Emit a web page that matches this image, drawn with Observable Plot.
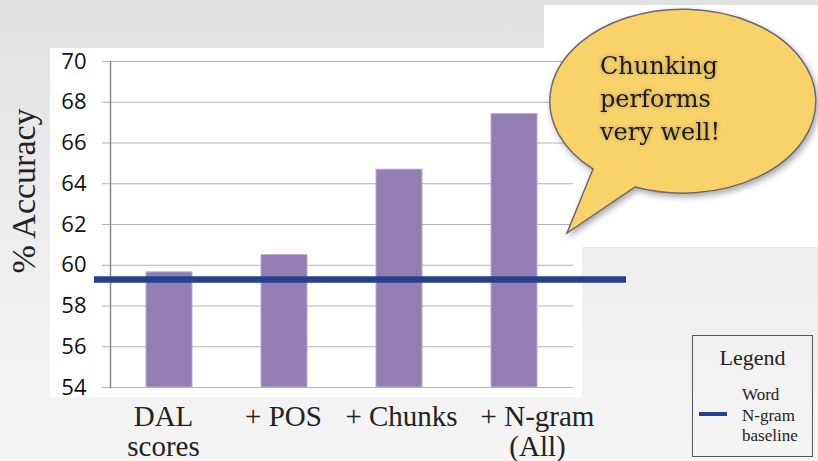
<!DOCTYPE html>
<html><head><meta charset="utf-8">
<script src="https://cdn.jsdelivr.net/npm/d3@7"></script>
<script src="https://cdn.jsdelivr.net/npm/@observablehq/plot@0.6"></script>
<style>
html,body{margin:0;padding:0}
body{width:818px;height:461px;overflow:hidden;position:relative;background:linear-gradient(180deg,#e1e1e1 0%,#ececec 45%,#f5f5f5 100%);}
#plotbg{position:absolute;left:50px;top:48px;width:532px;height:349px;background:#fff;}
#bubblebg{position:absolute;left:544px;top:5px;width:274px;height:242px;background:#fff;}
#chart{position:absolute;left:0;top:0;}
#ytitle{position:absolute;left:-76.5px;top:174px;width:200px;height:34px;line-height:34px;text-align:center;font-family:"Liberation Serif",serif;font-size:34px;color:#222;transform:rotate(-90deg);transform-origin:50% 50%;white-space:nowrap;}
#bubble{position:absolute;left:0;top:0;}
#legend{position:absolute;left:692px;top:335px;width:119px;height:120px;border:1.5px solid #555;font-family:"Liberation Serif",serif;color:#222;}
#legend .title{position:absolute;left:0;width:100%;top:9px;text-align:center;font-size:22px;}
#legend .swatch{position:absolute;left:6px;top:76px;width:28px;height:4px;background:#24408E;}
#legend .lab{position:absolute;left:49px;top:49px;font-size:17px;line-height:20.5px;white-space:pre;}
</style></head>
<body>
<div id="plotbg"></div>
<div id="bubblebg"></div>
<div id="chart"></div>
<div id="ytitle"></div>
<div id="legend"><div class="title"></div><div class="swatch"></div><div class="lab"></div></div>
<script>
const categories = ["DAL\nscores", "+ POS", "+ Chunks", "+ N-gram\n(All)"];
const accuracy = [59.65, 60.5, 64.69, 67.42];
const baselineAccuracy = 59.3;
const baselineLabel = "Word\nN-gram\nbaseline";
const yTicks = [54, 56, 58, 60, 62, 64, 66, 68, 70];
const yTitle = "% Accuracy";
const legendTitle = "Legend";
const bubbleLines = ["Chunking", "performs", "very well!"];

const labelShift = [-6, -1, 2, 23];

const data = categories.map((c, i) => ({category: c, value: accuracy[i]}));

const chart = Plot.plot({
  width: 818,
  height: 461,
  marginLeft: 110,
  marginRight: 245,
  marginTop: 61,
  marginBottom: 74,
  style: {background: "transparent", overflow: "visible"},
  x: {domain: categories, paddingInner: 0.6, paddingOuter: 0.3, axis: null},
  y: {domain: [54, 70], axis: null},
  marks: [
    Plot.ruleY(yTicks, {y: d => d, stroke: "#b3b3b3", strokeWidth: 1.2}),
    Plot.axisY(yTicks, {tickSize: 8, tickPadding: 16, stroke: "#b3b3b3", fontSize: 22, fontFamily: "Open Sans", fill: "#111", label: null}),
    Plot.frame({anchor: "left", stroke: "#8a8a8a", strokeWidth: 1.5}),
    Plot.barY(data, {x: "category", y1: 54, y2: "value", fill: "#937EB3", stroke: "#B9ABD3", strokeWidth: 1}),
    Plot.ruleY([baselineAccuracy], {stroke: "#24408E", strokeWidth: 6.5, insetLeft: -16, insetRight: -53}),
    ...categories.map((c, i) => Plot.text([c], {
      x: d => d, frameAnchor: "bottom", lineAnchor: "top", dy: 17, dx: labelShift[i],
      fontFamily: "Liberation Serif", fontSize: 29, lineHeight: 1.04, fill: "#222", text: d => d
    }))
  ]
});
document.getElementById("chart").appendChild(chart);

document.getElementById("ytitle").textContent = yTitle;
document.querySelector("#legend .title").textContent = legendTitle;
document.querySelector("#legend .lab").textContent = baselineLabel;

// speech bubble annotation
const svg = d3.select("body").append("svg").attr("id", "bubble").attr("width", 818).attr("height", 461);
const defs = svg.append("defs");
const f = defs.append("filter").attr("id", "sh").attr("x", "-20%").attr("y", "-20%").attr("width", "140%").attr("height", "140%");
f.append("feDropShadow").attr("dx", 2).attr("dy", 3).attr("stdDeviation", 3).attr("flood-color", "#000").attr("flood-opacity", 0.35);
const tf = defs.append("filter").attr("id", "tsh").attr("x", "-20%").attr("y", "-40%").attr("width", "140%").attr("height", "180%");
tf.append("feDropShadow").attr("dx", 0).attr("dy", 0).attr("stdDeviation", 2).attr("flood-color", "#000").attr("flood-opacity", 0.3);
svg.append("path")
  .attr("d", "M593,169 L567,233 L635,187 A133,92 0 1 0 593,169 Z")
  .attr("fill", "#F9D26B").attr("stroke", "#6a6a6a").attr("stroke-width", 1.5)
  .attr("filter", "url(#sh)");
svg.append("g").attr("filter", "url(#tsh)").selectAll("text").data(bubbleLines).join("text")
  .attr("x", 600).attr("y", (d, i) => 74 + i * 33)
  .attr("font-family", "DejaVu Serif").attr("font-size", 24).attr("fill", "#1a1a1a")
  .text(d => d);
</script>
</body></html>
